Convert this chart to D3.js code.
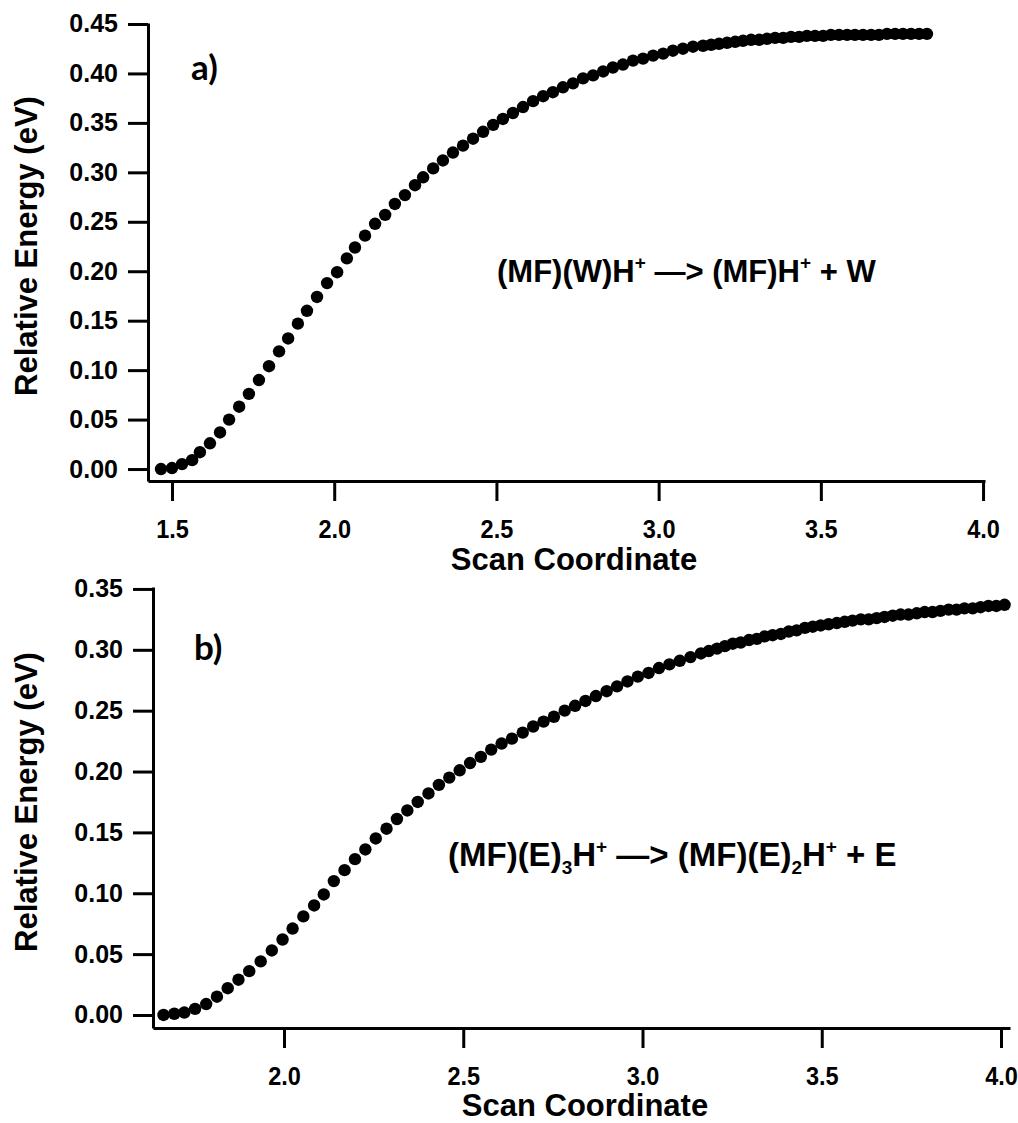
<!DOCTYPE html>
<html>
<head>
<meta charset="utf-8">
<script src="https://cdn.jsdelivr.net/npm/d3@7"></script>
<style>
  html, body { margin: 0; padding: 0; background: #fff; }
  svg { display: block; }
</style>
</head>
<body>
<script>
// panel a) : (MF)(W)H+ -> (MF)H+ + W
const topScan = [1.466, 1.500, 1.531, 1.562, 1.586, 1.617, 1.648, 1.676, 1.707, 1.737,
  1.768, 1.799, 1.830, 1.858, 1.888, 1.916, 1.947, 1.978, 2.009, 2.039,
  2.064, 2.095, 2.126, 2.157, 2.187, 2.218, 2.249, 2.274, 2.305, 2.335,
  2.366, 2.397, 2.428, 2.459, 2.490, 2.520, 2.551, 2.582, 2.613, 2.644,
  2.674, 2.705, 2.736, 2.767, 2.798, 2.829, 2.859, 2.890, 2.921, 2.952,
  2.983, 3.014, 3.044, 3.075, 3.106, 3.137, 3.162, 3.186, 3.211, 3.236,
  3.260, 3.285, 3.310, 3.334, 3.359, 3.384, 3.408, 3.433, 3.457, 3.482,
  3.507, 3.531, 3.556, 3.581, 3.605, 3.630, 3.655, 3.679, 3.704, 3.729,
  3.753, 3.778, 3.803, 3.827]
const topEnergy = [0.000, 0.001, 0.005, 0.009, 0.017, 0.026, 0.037, 0.050, 0.063, 0.076,
  0.090, 0.104, 0.119, 0.132, 0.147, 0.160, 0.174, 0.188, 0.199, 0.213,
  0.224, 0.236, 0.248, 0.257, 0.268, 0.277, 0.287, 0.295, 0.304, 0.312,
  0.320, 0.327, 0.334, 0.341, 0.348, 0.354, 0.360, 0.366, 0.372, 0.377,
  0.381, 0.386, 0.390, 0.395, 0.398, 0.402, 0.406, 0.409, 0.413, 0.415,
  0.418, 0.420, 0.423, 0.425, 0.427, 0.428, 0.429, 0.430, 0.431, 0.432,
  0.433, 0.434, 0.434, 0.435, 0.436, 0.436, 0.437, 0.437, 0.438, 0.438,
  0.438, 0.439, 0.439, 0.439, 0.439, 0.439, 0.439, 0.439, 0.440, 0.440,
  0.440, 0.440, 0.440, 0.440]
const topXTicks = [1.5, 2.0, 2.5, 3.0, 3.5, 4.0]
const topYTicks = [0, 0.05, 0.10, 0.15, 0.20, 0.25, 0.30, 0.35, 0.40, 0.45]

// panel b) : (MF)(E)3H+ -> (MF)(E)2H+ + E
const bottomScan = [1.664, 1.694, 1.722, 1.752, 1.783, 1.813, 1.843, 1.873, 1.903, 1.935,
  1.966, 1.996, 2.024, 2.054, 2.084, 2.111, 2.139, 2.169, 2.198, 2.227,
  2.256, 2.286, 2.315, 2.344, 2.373, 2.403, 2.432, 2.461, 2.490, 2.519,
  2.549, 2.578, 2.607, 2.636, 2.666, 2.695, 2.724, 2.753, 2.783, 2.812,
  2.841, 2.870, 2.900, 2.929, 2.958, 2.987, 3.017, 3.046, 3.075, 3.104,
  3.134, 3.163, 3.185, 3.208, 3.230, 3.252, 3.274, 3.297, 3.319, 3.341,
  3.363, 3.386, 3.408, 3.430, 3.453, 3.475, 3.497, 3.519, 3.542, 3.564,
  3.586, 3.609, 3.631, 3.653, 3.675, 3.698, 3.720, 3.742, 3.765, 3.787,
  3.809, 3.831, 3.854, 3.876, 3.898, 3.921, 3.943, 3.965, 3.987, 4.010]
const bottomEnergy = [0.000, 0.001, 0.002, 0.005, 0.009, 0.015, 0.022, 0.029, 0.036, 0.044,
  0.053, 0.062, 0.071, 0.081, 0.090, 0.099, 0.110, 0.119, 0.128, 0.136,
  0.145, 0.153, 0.161, 0.168, 0.175, 0.182, 0.189, 0.195, 0.201, 0.207,
  0.212, 0.218, 0.223, 0.227, 0.232, 0.237, 0.241, 0.245, 0.250, 0.254,
  0.258, 0.262, 0.266, 0.270, 0.274, 0.278, 0.281, 0.285, 0.288, 0.291,
  0.294, 0.297, 0.299, 0.301, 0.303, 0.305, 0.306, 0.308, 0.309, 0.311,
  0.312, 0.313, 0.315, 0.316, 0.318, 0.319, 0.320, 0.321, 0.322, 0.323,
  0.324, 0.325, 0.325, 0.326, 0.327, 0.328, 0.329, 0.329, 0.330, 0.331,
  0.331, 0.332, 0.333, 0.333, 0.334, 0.334, 0.335, 0.336, 0.336, 0.337]
const bottomXTicks = [2.0, 2.5, 3.0, 3.5, 4.0]
const bottomYTicks = [0, 0.05, 0.10, 0.15, 0.20, 0.25, 0.30, 0.35]

const xTitle = 'Scan Coordinate'
const yTitle = 'Relative Energy (eV)'
// annotation pieces: s = superscript, b = subscript
const topNote = [['(MF)(W)H'], ['+', 's'], [' \u2014> (MF)H'], ['+', 's'], [' + W']]
const bottomNote = [['(MF)(E)'], ['3', 'b'], ['H'], ['+', 's'], [' \u2014> (MF)(E)'], ['2', 'b'], ['H'], ['+', 's'], [' + E']]

const FONT = '"Liberation Sans", Arial, sans-serif'

const svg = d3.select('body')
  .append('svg')
  .attr('width', 1018)
  .attr('height', 1123)

function drawPanel (p) {
  const x = d3.scaleLinear().domain(p.xDomain).range([p.left, p.right])
  const y = d3.scaleLinear().domain(p.yDomain).range([p.bottom, p.top])
  const g = svg.append('g')

  // x axis
  const gx = g.append('g')
    .attr('transform', `translate(0, ${p.bottom})`)
    .call(d3.axisBottom(x).tickValues(p.xTicks).tickFormat(d3.format('.1f'))
      .tickSize(20).tickSizeOuter(0).tickPadding(19))
  // y axis
  const gy = g.append('g')
    .attr('transform', `translate(${p.left}, 0)`)
    .call(d3.axisLeft(y).tickValues(p.yTicks).tickFormat(d3.format('.2f'))
      .tickSize(20).tickSizeOuter(0).tickPadding(10))

  ;[gx, gy].forEach(a => {
    a.attr('font-family', FONT).attr('font-size', 25).attr('font-weight', 'bold')
    a.selectAll('.domain').attr('stroke', '#000').attr('stroke-width', 3)
    a.selectAll('.tick line').attr('stroke', '#000').attr('stroke-width', 3)
    a.selectAll('.tick text').attr('fill', '#000')
  })
  // slightly narrow digits, like the original
  gx.selectAll('.tick text').attr('transform', 'scale(0.94, 1)')

  // points
  g.append('g')
    .selectAll('circle')
    .data(p.xs)
    .enter()
    .append('circle')
    .attr('cx', d => x(d))
    .attr('cy', (d, i) => y(p.ys[i]))
    .attr('r', 6.2)
    .attr('fill', '#000')

  // axis titles
  g.append('text')
    .attr('x', p.xTitleX)
    .attr('y', p.xTitleY)
    .attr('text-anchor', 'middle')
    .attr('font-family', FONT)
    .attr('font-size', 31)
    .attr('font-weight', 'bold')
    .text(xTitle)

  g.append('text')
    .attr('transform', `translate(${p.yTitleX}, ${p.yTitleY}) rotate(-90)`)
    .attr('text-anchor', 'middle')
    .attr('font-family', FONT)
    .attr('font-size', 31)
    .attr('font-weight', 'bold')
    .text(yTitle)

  // panel tag
  g.append('text')
    .attr('x', p.tagX)
    .attr('y', p.tagY)
    .attr('font-family', 'Lato, "Open Sans", sans-serif')
    .attr('font-size', 35)
    .attr('font-weight', 'bold')
    .text(p.tag)

  // reaction label
  const note = g.append('text')
    .attr('x', p.noteX)
    .attr('y', p.noteY)
    .attr('font-family', FONT)
    .attr('font-size', p.noteSize)
    .attr('font-weight', 'bold')
  let shift = 0
  p.note.forEach(([t, kind]) => {
    const off = kind === 's' ? -13 : kind === 'b' ? 8 : 0
    note.append('tspan')
      .attr('dy', off - shift)
      .attr('font-size', kind ? 19 : p.noteSize)
      .text(t)
    shift = off
  })
}

drawPanel({
  left: 148, right: 985, top: 23, bottom: 481,
  xDomain: [1.426, 4.006], yDomain: [-0.0121, 0.451],
  xTicks: topXTicks, yTicks: topYTicks,
  xs: topScan, ys: topEnergy,
  tag: 'a)', tagX: 191, tagY: 80,
  note: topNote, noteX: 497, noteY: 282, noteSize: 31,
  xTitleX: 574, xTitleY: 570,
  yTitleX: 37, yTitleY: 246
})

drawPanel({
  left: 153, right: 1010, top: 587, bottom: 1028,
  xDomain: [1.6346, 4.0251], yDomain: [-0.0107, 0.3516],
  xTicks: bottomXTicks, yTicks: bottomYTicks,
  xs: bottomScan, ys: bottomEnergy,
  tag: 'b)', tagX: 194, tagY: 660,
  note: bottomNote, noteX: 448, noteY: 866, noteSize: 33,
  xTitleX: 585, xTitleY: 1116,
  yTitleX: 37, yTitleY: 802
})
</script>
</body>
</html>
